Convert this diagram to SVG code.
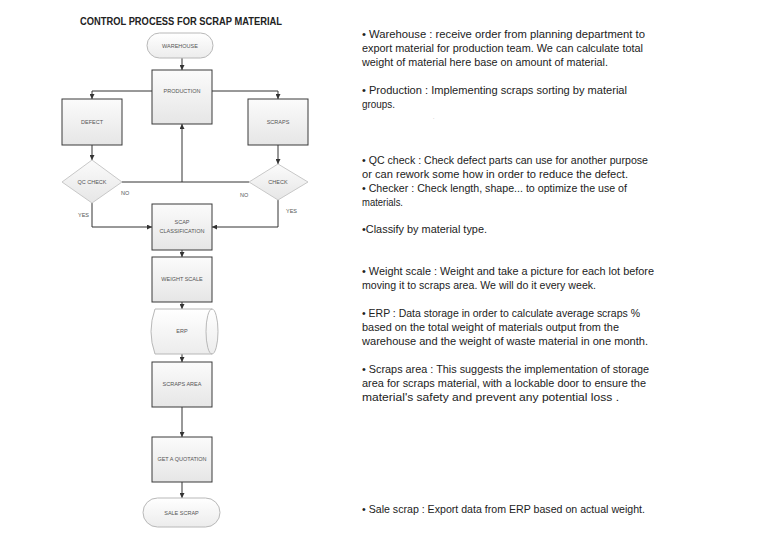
<svg xmlns="http://www.w3.org/2000/svg" width="768" height="543" viewBox="0 0 768 543">
<defs>
<linearGradient id="gbox" x1="0" y1="0" x2="0" y2="1"><stop offset="0" stop-color="#fbfbfb"/><stop offset="1" stop-color="#e6e6e6"/></linearGradient>
<linearGradient id="gpill" x1="0" y1="0" x2="0" y2="1"><stop offset="0" stop-color="#ffffff"/><stop offset="1" stop-color="#ececec"/></linearGradient>
<marker id="arr" viewBox="0 0 10 10" refX="10" refY="5" markerWidth="5" markerHeight="5" orient="auto" markerUnits="userSpaceOnUse"><path d="M0,0 L10,5 L0,10 z" fill="#333"/></marker>
</defs>
<style>
.box{fill:url(#gbox);stroke:#3a3a3a;stroke-width:1}
.soft{fill:url(#gpill);stroke:#b8b8b8;stroke-width:1}
.nt{font-family:"Liberation Sans",Arial,sans-serif;font-size:5.5px;fill:#555;text-anchor:middle}
.lb{font-family:"Liberation Sans",Arial,sans-serif;font-size:5.5px;fill:#555}
.con{fill:none;stroke:#333;stroke-width:1}
.tx{font-family:"Liberation Sans",Arial,sans-serif;font-size:10.5px;fill:#222}
.title{font-family:"Liberation Sans",Arial,sans-serif;font-size:10.5px;font-weight:bold;fill:#222}
</style>
<rect width="768" height="543" fill="#fff"/>
<text class="title" x="80" y="25" textLength="202" lengthAdjust="spacingAndGlyphs">CONTROL PROCESS FOR SCRAP MATERIAL</text>

<g id="connectors">
<path class="con" d="M182,58 V70" marker-end="url(#arr)"/>
<path class="con" d="M152,91 H92 V99" marker-end="url(#arr)"/>
<path class="con" d="M212,91 H278 V99" marker-end="url(#arr)"/>
<path class="con" d="M92,145 V160" marker-end="url(#arr)"/>
<path class="con" d="M278,145 V164" marker-end="url(#arr)"/>
<path class="con" d="M122,182 H249"/>
<path class="con" d="M182,182 V124" marker-end="url(#arr)"/>
<path class="con" d="M92,203 V227 H152" marker-end="url(#arr)"/>
<path class="con" d="M278,200 V227 H212" marker-end="url(#arr)"/>
<path class="con" d="M182,250 V257" marker-end="url(#arr)"/>
<path class="con" d="M182,302 V309" marker-end="url(#arr)"/>
<path class="con" d="M182,354 V362" marker-end="url(#arr)"/>
<path class="con" d="M182,407 V437" marker-end="url(#arr)"/>
<path class="con" d="M182,482 V498" marker-end="url(#arr)"/>
<text class="lb" x="121" y="195">NO</text>
<text class="lb" x="240" y="197">NO</text>
<text class="lb" x="78" y="217">YES</text>
<text class="lb" x="286" y="213">YES</text>
</g>

<g id="warehouse"><rect class="soft" x="147" y="33" width="66" height="25" rx="12.5"/><text class="nt" x="180" y="47.5">WAREHOUSE</text></g>
<g id="production"><rect class="box" x="152" y="70" width="60" height="54"/><text class="nt" x="182" y="93">PRODUCTION</text></g>
<g id="defect"><rect class="box" x="62" y="99" width="60" height="46"/><text class="nt" x="92" y="124">DEFECT</text></g>
<g id="scraps"><rect class="box" x="248" y="99" width="60" height="46"/><text class="nt" x="278" y="124">SCRAPS</text></g>
<g id="qccheck"><path d="M62,182 L92,160 L122,182 L92,203 Z" fill="url(#gbox)" stroke="#c8c8c8"/><text class="nt" x="92" y="184">QC CHECK</text></g>
<g id="check"><path d="M249,182 L278,164 L308,182 L278,200 Z" fill="url(#gbox)" stroke="#c8c8c8"/><text class="nt" x="278" y="184">CHECK</text></g>
<g id="classification"><rect class="box" x="152" y="204" width="60" height="46"/><text class="nt" x="182" y="224">SCAP</text><text class="nt" x="182" y="233">CLASSIFICATION</text></g>
<g id="weightscale"><rect class="box" x="152" y="257" width="60" height="45"/><text class="nt" x="182" y="281">WEIGHT SCALE</text></g>
<g id="erp"><path d="M155,309 H212 A6,22.5 0 0 1 212,354 H155 Q147,331.5 155,309 Z" fill="url(#gpill)" stroke="#b8b8b8"/><path d="M212,309 A6,22.5 0 0 0 212,354" fill="none" stroke="#b8b8b8"/><text class="nt" x="182" y="333">ERP</text></g>
<g id="scrapsarea"><rect class="box" x="152" y="362" width="60" height="45"/><text class="nt" x="182" y="386">SCRAPS AREA</text></g>
<g id="quotation"><rect class="box" x="152" y="437" width="60" height="45"/><text class="nt" x="182" y="461">GET A QUOTATION</text></g>
<g id="salescrap"><rect class="soft" x="143" y="498" width="77" height="29" rx="14.5"/><text class="nt" x="181.5" y="514.5">SALE SCRAP</text></g>

<g id="notes">
<text class="tx" x="362" y="38" textLength="283" lengthAdjust="spacingAndGlyphs">•  Warehouse :  receive order from planning department to</text>
<text class="tx" x="362" y="52" textLength="281" lengthAdjust="spacingAndGlyphs">export material for production team. We can calculate total</text>
<text class="tx" x="362" y="66" textLength="246" lengthAdjust="spacingAndGlyphs">weight of material here base on amount of material.</text>
<text class="tx" x="362" y="94" textLength="265" lengthAdjust="spacingAndGlyphs">•  Production : Implementing scraps sorting by material</text>
<text class="tx" x="362" y="108" textLength="33" lengthAdjust="spacingAndGlyphs">groups.</text>
<text class="tx" x="433" y="119" style="font-size:5px;fill:#999">.</text>
<text class="tx" x="362" y="164" textLength="286" lengthAdjust="spacingAndGlyphs">•  QC check : Check defect parts can use for another purpose</text>
<text class="tx" x="362" y="178" textLength="266" lengthAdjust="spacingAndGlyphs">or can rework some how in order to reduce the defect.</text>
<text class="tx" x="362" y="192" textLength="265" lengthAdjust="spacingAndGlyphs">•  Checker : Check length, shape... to optimize the use of</text>
<text class="tx" x="362" y="206" textLength="41" lengthAdjust="spacingAndGlyphs">materials.</text>
<text class="tx" x="362" y="233" textLength="125" lengthAdjust="spacingAndGlyphs">•Classify by material type.</text>
<text class="tx" x="362" y="275" textLength="292" lengthAdjust="spacingAndGlyphs">•  Weight scale : Weight and take a picture for each lot before</text>
<text class="tx" x="362" y="289" textLength="234" lengthAdjust="spacingAndGlyphs">moving it to scraps area. We will do it every week.</text>
<text class="tx" x="362" y="317" textLength="278" lengthAdjust="spacingAndGlyphs">•  ERP : Data storage in order to calculate average scraps %</text>
<text class="tx" x="362" y="331" textLength="257" lengthAdjust="spacingAndGlyphs">based on the total weight of materials output from the</text>
<text class="tx" x="362" y="345" textLength="286" lengthAdjust="spacingAndGlyphs">warehouse and the weight of waste material in one month.</text>
<text class="tx" x="362" y="373" textLength="287" lengthAdjust="spacingAndGlyphs">•  Scraps area : This suggests the implementation of  storage</text>
<text class="tx" x="362" y="387" textLength="284" lengthAdjust="spacingAndGlyphs">area for scraps material, with a lockable door to ensure the</text>
<text class="tx" x="362" y="401" textLength="257" lengthAdjust="spacingAndGlyphs">material's safety and prevent any potential loss .</text>
<text class="tx" x="362" y="513" textLength="283" lengthAdjust="spacingAndGlyphs">•  Sale scrap : Export data from ERP based on actual weight.</text>
</g>
</svg>
